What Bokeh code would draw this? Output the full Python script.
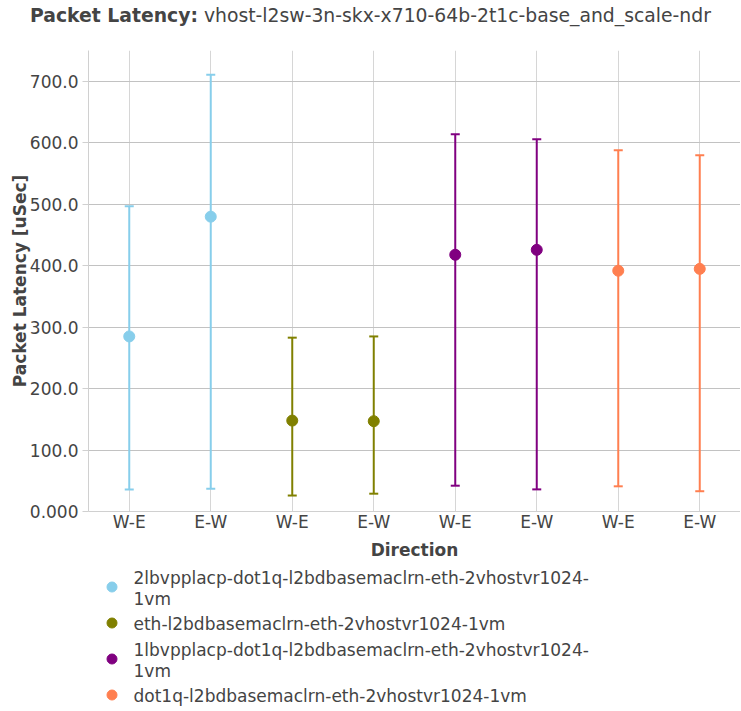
from bokeh.plotting import figure
from bokeh.layouts import column
from bokeh.models import Range1d, FixedTicker, ColumnDataSource, Div
from bokeh.core.properties import value
from bokeh.embed import file_html
from bokeh.resources import INLINE

# ---- data ----
directions = ["W-E", "E-W"]
series_labels = [
    "2lbvpplacp-dot1q-l2bdbasemaclrn-eth-2vhostvr1024-\n1vm",
    "eth-l2bdbasemaclrn-eth-2vhostvr1024-1vm",
    "1lbvpplacp-dot1q-l2bdbasemaclrn-eth-2vhostvr1024-\n1vm",
    "dot1q-l2bdbasemaclrn-eth-2vhostvr1024-1vm",
]
series_colors = ["#87CEEB", "#808000", "#800080", "#FF7F50"]
avg_2lb = [285, 480]
min_2lb = [36, 37]
max_2lb = [497, 711]
avg_eth = [148, 147]
min_eth = [26, 29]
max_eth = [283, 285]
avg_1lb = [418, 426]
min_1lb = [42, 36]
max_1lb = [614, 606]
avg_dot = [392, 395]
min_dot = [41, 33]
max_dot = [588, 580]
y_ticks = [0, 100, 200, 300, 400, 500, 600, 700]
y_tick_labels = ["0.000", "100.0", "200.0", "300.0", "400.0", "500.0", "600.0", "700.0"]
title_bold = "Packet Latency:"
title_rest = "vhost-l2sw-3n-skx-x710-64b-2t1c-base_and_scale-ndr"

series = [
    (avg_2lb, min_2lb, max_2lb),
    (avg_eth, min_eth, max_eth),
    (avg_1lb, min_1lb, max_1lb),
    (avg_dot, min_dot, max_dot),
]

FONT = "DejaVu Sans"
TXT = "#444444"
W = 740
FRAME_L = 88

# ---- title ----
title_div = Div(
    text=('<div style="margin:0;padding:3px 0 0 30px;line-height:26px;'
          "font-family:'DejaVu Sans';font-size:18.8px;color:#444444;white-space:nowrap;\">"
          f"<b>{title_bold}</b> {title_rest}</div>"),
    width=W, height=50, margin=(0, 0, 0, 0))

# ---- main chart ----
p = figure(frame_width=W - FRAME_L, frame_height=461, output_backend="svg", toolbar_location=None,
           x_range=Range1d(-0.5, 7.5), y_range=Range1d(0, 750.5),
           min_border_left=FRAME_L, min_border_right=0, min_border_top=0, min_border_bottom=55)
p.title.visible = False
p.outline_line_color = None

p.xgrid.grid_line_color = "#d6d6d6"
p.ygrid.grid_line_color = "#c2c2c2"
p.xgrid.ticker = FixedTicker(ticks=list(range(8)))
p.ygrid.ticker = FixedTicker(ticks=y_ticks)

xa = p.xaxis[0]
xa.ticker = FixedTicker(ticks=list(range(8)))
xa.major_label_overrides = {i: directions[i % 2] for i in range(8)}
xa.axis_label = "Direction"
xa.major_tick_out = 0
xa.major_tick_in = 0
xa.minor_tick_out = 0
xa.minor_tick_in = 0
xa.axis_line_color = "#d0d0d0"
xa.major_label_standoff = 0
xa.axis_label_standoff = 5

ya = p.yaxis[0]
ya.ticker = FixedTicker(ticks=y_ticks)
ya.major_label_overrides = {t: l for t, l in zip(y_ticks, y_tick_labels)}
ya.axis_label = "Packet Latency [uSec]"
ya.major_tick_out = 6
ya.major_tick_in = 0
ya.minor_tick_out = 0
ya.minor_tick_in = 0
ya.major_tick_line_color = "#d0d0d0"
ya.axis_line_color = "#d0d0d0"
ya.major_label_standoff = 4
ya.axis_label_standoff = -3

for ax in (xa, ya):
    ax.major_label_text_font = FONT
    ax.major_label_text_font_size = "17px"
    ax.major_label_text_color = TXT
    ax.axis_label_text_font = FONT
    ax.axis_label_text_font_size = "17px"
    ax.axis_label_text_font_style = "bold"
    ax.axis_label_text_color = TXT

for i, (avg, lo, hi) in enumerate(series):
    xs = [2 * i + j for j in range(len(directions))]
    src = ColumnDataSource(dict(x=xs, avg=avg, lo=lo, hi=hi))
    col = series_colors[i]
    p.segment(x0="x", y0="lo", x1="x", y1="hi", source=src, line_color=col, line_width=2)
    p.scatter(x="x", y="lo", source=src, marker="dash", size=9, line_color=col, line_width=2)
    p.scatter(x="x", y="hi", source=src, marker="dash", size=9, line_color=col, line_width=2)
    p.scatter(x="x", y="avg", source=src, marker="circle", size=11, fill_color=col, line_color=col)

# ---- legend (frame is aligned with the chart frame, x in page pixels) ----
LH = 144
lf = figure(width=W, height=LH, output_backend="svg", toolbar_location=None,
            x_range=Range1d(FRAME_L, W), y_range=Range1d(LH, 0),
            x_axis_location=None, y_axis_location=None,
            min_border_left=FRAME_L, min_border_right=0, min_border_top=0, min_border_bottom=0)
lf.title.visible = False
lf.outline_line_color = None
lf.xgrid.visible = False
lf.ygrid.visible = False

line_h = 21
item_gap = 4.5
cursor = 0.5
mk_x, mk_y, mk_c = [], [], []
tx_x, tx_y, tx_t = [], [], []
for lab, col in zip(series_labels, series_colors):
    lines = lab.split("\n")
    block = len(lines) * line_h
    mk_x.append(111.5)
    mk_y.append(cursor + block / 2 - 1)
    mk_c.append(col)
    for k, ln in enumerate(lines):
        tx_x.append(133)
        tx_y.append(cursor + line_h * k + line_h / 2)
        tx_t.append(ln)
    cursor += block + item_gap
lf.scatter(x=mk_x, y=mk_y, color=mk_c, size=10, marker="circle")
lf.text(x=tx_x, y=tx_y, text=tx_t, text_font=value(FONT), text_font_size="17px",
        text_color=TXT, text_baseline="middle")

layout = column(title_div, p, lf, spacing=0)
open("out.html", "w").write(file_html(layout, INLINE))
